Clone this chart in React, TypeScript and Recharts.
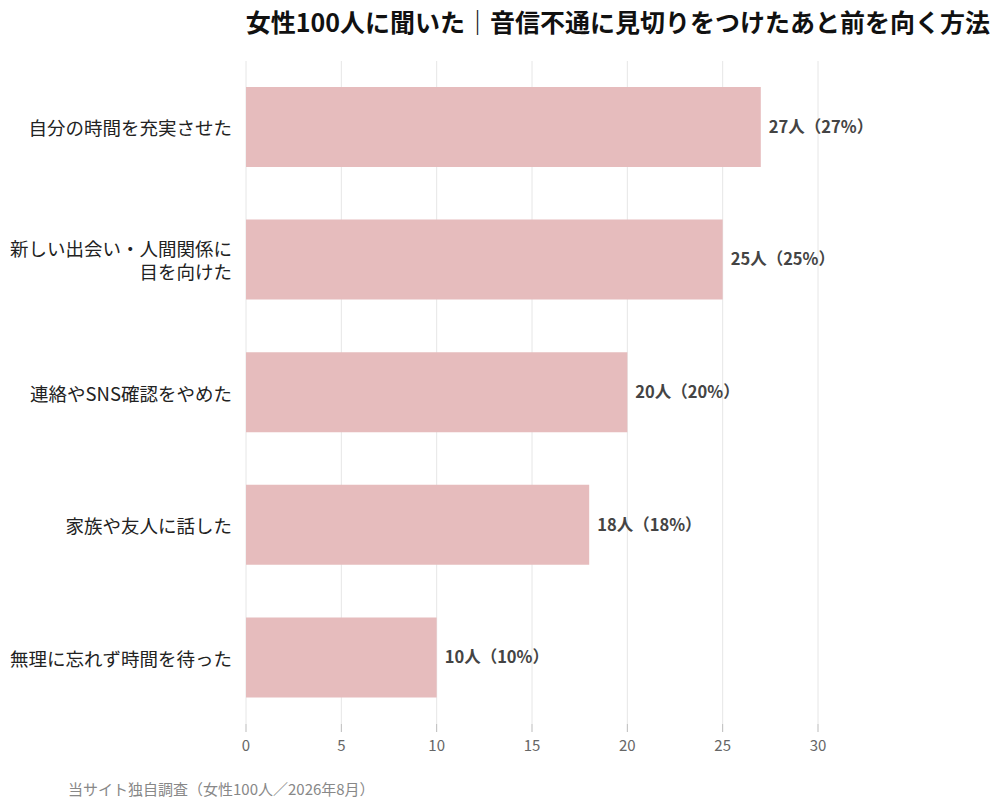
import React from 'react';
import { BarChart, Bar, XAxis, YAxis, CartesianGrid, LabelList } from 'recharts';

const categories = [
  '自分の時間を充実させた',
  '新しい出会い・人間関係に\n目を向けた',
  '連絡やSNS確認をやめた',
  '家族や友人に話した',
  '無理に忘れず時間を待った',
];
const counts = [27, 25, 20, 18, 10];
const percents = [27, 25, 20, 18, 10];
const xTicks = [0, 5, 10, 15, 20, 25, 30];

const title = '女性100人に聞いた｜音信不通に見切りをつけたあと前を向く方法';
const source = '当サイト独自調査（女性100人／2026年8月）';

const FONT = '"Noto Sans CJK JP", "Noto Sans", sans-serif';

const data = categories.map((name, i) => ({
  name,
  value: counts[i],
  label: `${counts[i]}人（${percents[i]}%）`,
}));

const CategoryTick = (props: any) => {
  const { x, y, payload } = props;
  const lines = String(payload.value).split('\n');
  const lh = 23;
  const start = -((lines.length - 1) * lh) / 2;
  return (
    <text x={x} y={y} textAnchor="end" fill="#222" fontSize={18.5} fontFamily={FONT}>
      {lines.map((l, i) => (
        <tspan key={i} x={x} dy={i === 0 ? start + 8 : lh}>
          {l}
        </tspan>
      ))}
    </text>
  );
};

const App = () => {
  return (
    <div style={{ position: 'absolute', left: 0, top: 0, width: 1000, height: 809, fontFamily: FONT }}>
      <div
        style={{
          position: 'absolute',
          left: 240,
          top: 3,
          width: 756,
          textAlign: 'center',
          fontSize: 25,
          fontWeight: 700,
          color: '#111',
          whiteSpace: 'nowrap',
        }}
      >
        {title}
      </div>
      <BarChart
        width={1000}
        height={809}
        data={data}
        layout="vertical"
        margin={{ top: 61, right: 182, bottom: 55, left: 0 }}
        barSize={80}
      >
        <CartesianGrid horizontal={false} stroke="#e6e6e6" />
        <XAxis
          type="number"
          domain={[0, 30]}
          ticks={xTicks}
          axisLine={false}
          tickLine={{ stroke: '#bbb' }}
          tickSize={8}
          tickMargin={8}
          height={30}
          tick={{ fill: '#666', fontSize: 15, fontFamily: FONT }}
        />
        <YAxis
          type="category"
          dataKey="name"
          width={246}
          axisLine={false}
          tickLine={false}
          tickMargin={8}
          tick={<CategoryTick />}
        />
        <Bar dataKey="value" fill="#e6bcbd" isAnimationActive={false}>
          <LabelList
            dataKey="label"
            position="right"
            offset={8}
            fill="#444"
            fontSize={16.5}
            fontWeight={700}
            fontFamily={FONT}
          />
        </Bar>
      </BarChart>
      <div style={{ position: 'absolute', left: 68, top: 778, fontSize: 15, color: '#888' }}>{source}</div>
    </div>
  );
};

export default App;
